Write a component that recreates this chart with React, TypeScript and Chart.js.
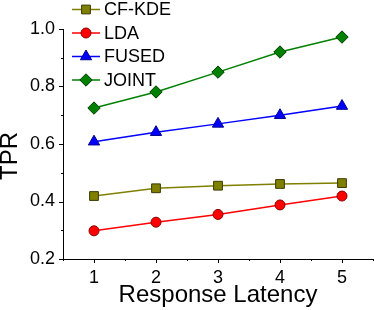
import React, { useEffect, useRef } from 'react';
import { Chart, registerables } from 'chart.js';
import { drawPoint } from 'chart.js/helpers';

Chart.register(...registerables);

// ---- data ----
const latency = [1, 2, 3, 4, 5];
const seriesNames = ['CF-KDE', 'LDA', 'FUSED', 'JOINT'];
const cfKde = [0.419, 0.446, 0.455, 0.461, 0.464];
const lda = [0.298, 0.328, 0.355, 0.388, 0.419];
const fused = [0.608, 0.641, 0.67, 0.7, 0.732];
const joint = [0.725, 0.781, 0.85, 0.92, 0.972];
const yTickLabels = [0.2, 0.4, 0.6, 0.8, 1.0];
const xTickLabels = [1, 2, 3, 4, 5];
const xTitle = 'Response Latency';
const yTitle = 'TPR';

const FONT = "'Liberation Sans', Arial, Helvetica, sans-serif";

const styles = [
  { color: '#808000', edge: '#3a3a00', shape: 'rect', r: 6.2 },
  { color: '#ff0000', edge: '#8a0000', shape: 'circle', r: 5 },
  { color: '#0000ff', edge: '#00008a', shape: 'triangle', r: 6.5 },
  { color: '#008000', edge: '#003a00', shape: 'rectRot', r: 6.2 },
];

const seriesValues = [cfKde, lda, fused, joint];

const decorPlugin = {
  id: 'decor',
  afterDraw(chart: any) {
    const ctx = chart.ctx as CanvasRenderingContext2D;
    const xs = chart.scales.x;
    const ys = chart.scales.y;
    const area = chart.chartArea;
    ctx.save();
    ctx.strokeStyle = '#000';
    ctx.lineWidth = 1;
    // x ticks
    for (let v = 0.5; v <= 5.5 + 1e-9; v += 0.5) {
      const px = Math.min(Math.round(xs.getPixelForValue(v)) + 0.5, chart.width - 0.5);
      const major = Math.abs(v - Math.round(v)) < 1e-9;
      const len = major ? 4 : 2;
      ctx.beginPath();
      ctx.moveTo(px, area.bottom);
      ctx.lineTo(px, area.bottom + len);
      ctx.stroke();
    }
    // y ticks
    for (let i = 2; i <= 10; i++) {
      const v = i / 10;
      const py = Math.round(ys.getPixelForValue(v)) + 0.5;
      const major = i % 2 === 0;
      const len = major ? 4 : 2;
      ctx.beginPath();
      ctx.moveTo(area.left, py);
      ctx.lineTo(area.left - len, py);
      ctx.stroke();
    }
    // y title
    ctx.fillStyle = '#000';
    ctx.font = `24px ${FONT}`;
    ctx.textAlign = 'center';
    ctx.textBaseline = 'middle';
    ctx.translate(10, 156);
    ctx.rotate(-Math.PI / 2);
    ctx.fillText(yTitle, 0, 0);
    ctx.restore();

    // legend
    ctx.save();
    const rows = [9.5, 33, 56.5, 80];
    chart.data.datasets.forEach((ds: any, i: number) => {
      const st = styles[i];
      const y = rows[i];
      ctx.strokeStyle = st.color;
      ctx.lineWidth = 1.5;
      ctx.beginPath();
      ctx.moveTo(72, y);
      ctx.lineTo(100, y);
      ctx.stroke();
      ctx.fillStyle = st.color;
      ctx.strokeStyle = st.edge;
      ctx.lineWidth = 1;
      drawPoint(ctx, { pointStyle: st.shape as any, rotation: 0, radius: st.r, borderWidth: 1 }, 86, y);
      ctx.fillStyle = '#000';
      ctx.font = `18px ${FONT}`;
      ctx.textAlign = 'left';
      ctx.textBaseline = 'middle';
      ctx.fillText(ds.label, 104, y + 1);
    });
    ctx.restore();
  },
};

export default function App() {
  const ref = useRef<HTMLCanvasElement | null>(null);
  useEffect(() => {
    document.body.style.margin = '0';
    if (!ref.current) return;
    const datasets = seriesValues.map((vals, i) => ({
      label: seriesNames[i],
      data: latency.map((x, j) => ({ x, y: vals[j] })),
      borderColor: styles[i].color,
      backgroundColor: styles[i].color,
      pointBackgroundColor: styles[i].color,
      pointBorderColor: styles[i].edge,
      pointBorderWidth: 1,
      pointStyle: styles[i].shape,
      pointRadius: styles[i].r,
      borderWidth: 1.5,
      tension: 0,
      clip: false,
    }));
    const chart = new Chart(ref.current, {
      type: 'line',
      data: { datasets },
      plugins: [decorPlugin],
      options: {
        responsive: false,
        animation: false,
        layout: { autoPadding: false, padding: { top: 29, right: 1, left: 0, bottom: 0 } },
        plugins: { legend: { display: false }, tooltip: { enabled: false } },
        scales: {
          x: {
            type: 'linear',
            min: 0.5,
            max: 5.5,
            afterFit: (s: any) => { s.height = 51; s.paddingLeft = 0; s.paddingRight = 0; },
            grid: { display: false, drawTicks: false },
            border: { display: true, color: '#000', width: 1 },
            ticks: {
              stepSize: 0.5,
              autoSkip: false,
              maxRotation: 0,
              padding: 8,
              color: '#000',
              font: { family: FONT, size: 18 },
              callback: (v: any) => (xTickLabels.includes(Number(v)) ? String(v) : ''),
            },
            title: {
              display: true,
              text: xTitle,
              color: '#000',
              font: { family: FONT, size: 24, lineHeight: 1 },
              padding: { top: 0, bottom: 2.5 },
            },
          },
          y: {
            type: 'linear',
            min: 0.2,
            max: 1.0,
            afterFit: (s: any) => { s.width = 63; s.paddingTop = 0; s.paddingBottom = 0; },
            grid: { display: false, drawTicks: false },
            border: { display: true, color: '#000', width: 1 },
            ticks: {
              stepSize: 0.1,
              autoSkip: false,
              padding: 8,
              color: '#000',
              font: { family: FONT, size: 18 },
              callback: (v: any) => {
                const n = Number(v);
                return yTickLabels.some((t) => Math.abs(t - n) < 1e-6) ? n.toFixed(1) : '';
              },
            },
          },
        },
      },
    });
    return () => chart.destroy();
  }, []);
  return (
    <div style={{ width: 374, height: 310 }}>
      <canvas ref={ref} width={374} height={310} />
    </div>
  );
}
